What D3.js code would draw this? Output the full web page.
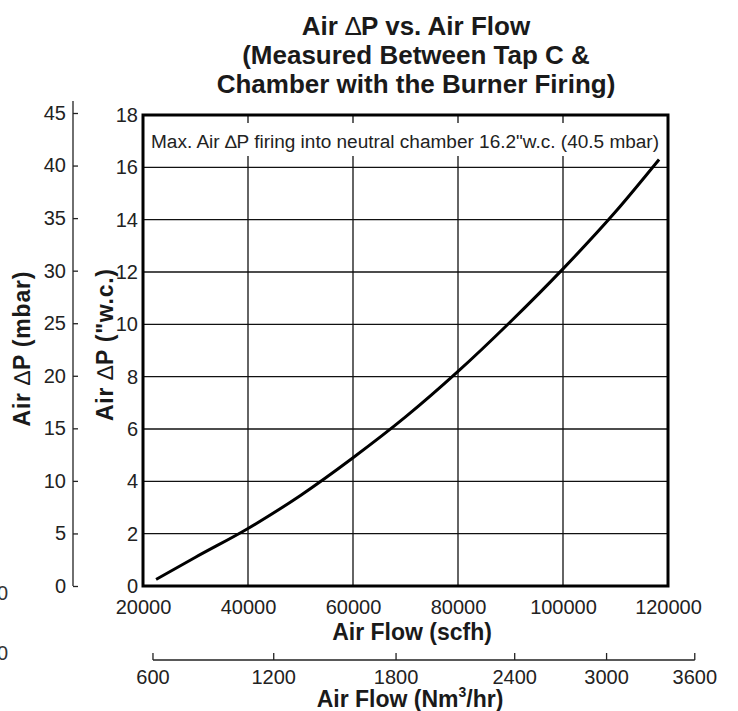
<!DOCTYPE html>
<html>
<head>
<meta charset="utf-8">
<script src="https://cdn.jsdelivr.net/npm/d3@7"></script>
<style>
body { margin: 0; background: #fff; }
text { font-family: "Liberation Sans", Arial, sans-serif; }
</style>
</head>
<body>
<div id="chart"></div>
<script>
// values
var flowScfh = [22500, 30000, 40000, 50000, 60000, 70000, 80000, 90000, 100000, 110000, 118300];
var dpWc = [0.25, 1.1, 2.2, 3.46, 4.9, 6.46, 8.2, 10.1, 12.12, 14.3, 16.3];

var scfhTicks = [20000, 40000, 60000, 80000, 100000, 120000];
var wcTicks = [0, 2, 4, 6, 8, 10, 12, 14, 16, 18];
var mbarTicks = [0, 5, 10, 15, 20, 25, 30, 35, 40, 45];
// secondary flow axis: label and where its tick sits on the scfh axis
var nm3Labels = [600, 1200, 1800, 2400, 3000, 3600];
var nm3AtScfh = [21900, 44900, 68200, 90800, 108300, 125100];

var titleLines = [["Air ", "\u2206", "P vs. Air Flow"], ["(Measured Between Tap C &"], ["Chamber with the Burner Firing)"]];
var noteText = "Max. Air \u2206P firing into neutral chamber 16.2\"w.c. (40.5 mbar)";

function airChart() {

var svgWidth = 738;
var svgHeight = 711;

var box = {left: 143, right: 668, top: 115, bottom: 586};

var svg = d3.select("#chart")
    .append("svg")
    .attr("width", svgWidth)
    .attr("height", svgHeight);

var xScale = d3.scaleLinear()
    .domain([20000, 120000])
    .range([box.left, box.right]);

var yScale = d3.scaleLinear()
    .domain([0, 18])
    .range([box.bottom, box.top]);

var yMbar = d3.scaleLinear()
    .domain([0, 45])
    .range([box.bottom, 113]);

// grid
svg.append("g").selectAll("line")
    .data(scfhTicks.slice(1, -1))
    .enter()
    .append("line")
    .attr("x1", d => xScale(d))
    .attr("x2", d => xScale(d))
    .attr("y1", box.top)
    .attr("y2", box.bottom)
    .attr("stroke", "#111")
    .attr("stroke-width", 1.3);

svg.append("g").selectAll("line")
    .data(wcTicks.slice(1, -1))
    .enter()
    .append("line")
    .attr("x1", box.left)
    .attr("x2", box.right)
    .attr("y1", d => yScale(d))
    .attr("y2", d => yScale(d))
    .attr("stroke", "#111")
    .attr("stroke-width", 1.3);

// note with white band behind it
svg.append("rect")
    .attr("x", box.left + 2)
    .attr("y", 123)
    .attr("width", box.right - box.left - 4)
    .attr("height", 33)
    .attr("fill", "#fff");

svg.append("text")
    .attr("x", 151)
    .attr("y", 148)
    .attr("font-size", "18px")
    .attr("textLength", 508)
    .attr("lengthAdjust", "spacingAndGlyphs")
    .attr("fill", "#222")
    .text(noteText);

// curve
var line = d3.line()
    .x(d => xScale(d[0]))
    .y(d => yScale(d[1]))
    .curve(d3.curveMonotoneX);

svg.append("path")
    .datum(flowScfh.map((f, i) => [f, dpWc[i]]))
    .attr("d", line)
    .attr("fill", "none")
    .attr("stroke", "#000")
    .attr("stroke-width", 3);

// frame
svg.append("rect")
    .attr("x", box.left)
    .attr("y", box.top)
    .attr("width", box.right - box.left)
    .attr("height", box.bottom - box.top)
    .attr("fill", "none")
    .attr("stroke", "#000")
    .attr("stroke-width", 3);

// "w.c. axis
var wcAxis = svg.append("g")
    .attr("transform", `translate(${box.left}, 0)`)
    .call(d3.axisLeft(yScale).tickValues(wcTicks).tickSize(0).tickPadding(5));
wcAxis.select(".domain").remove();
wcAxis.selectAll("text").attr("font-size", "20px").attr("font-family", null).attr("fill", "#222");

// mbar axis
var mbarAxis = svg.append("g")
    .attr("transform", "translate(73, 0)")
    .call(d3.axisLeft(yMbar).tickValues(mbarTicks).tickSize(-5).tickSizeOuter(0).tickPadding(7));
mbarAxis.select(".domain").remove();
mbarAxis.append("line")
    .attr("y1", 101)
    .attr("y2", box.bottom)
    .attr("stroke", "#222")
    .attr("stroke-width", 1.3);
mbarAxis.selectAll(".tick line").attr("stroke", "#222").attr("stroke-width", 1.3);
mbarAxis.selectAll("text").attr("font-size", "20px").attr("font-family", null).attr("fill", "#222");

// scfh axis
var xAxis = svg.append("g")
    .attr("transform", `translate(0, ${box.bottom})`)
    .call(d3.axisBottom(xScale).tickValues(scfhTicks).tickSize(0).tickPadding(14).tickFormat(d3.format("d")));
xAxis.select(".domain").remove();
xAxis.selectAll("text").attr("font-size", "20px").attr("font-family", null).attr("fill", "#222");

// Nm3/hr axis
var nmY = 660;
var nmAxis = svg.append("g");
nmAxis.append("line")
    .attr("x1", xScale(nm3AtScfh[0]))
    .attr("x2", xScale(nm3AtScfh[nm3AtScfh.length - 1]))
    .attr("y1", nmY)
    .attr("y2", nmY)
    .attr("stroke", "#222")
    .attr("stroke-width", 1.3);
nmAxis.selectAll(".nmtick")
    .data(nm3AtScfh)
    .enter()
    .append("line")
    .attr("x1", d => xScale(d))
    .attr("x2", d => xScale(d))
    .attr("y1", nmY)
    .attr("y2", nmY - 7)
    .attr("stroke", "#222")
    .attr("stroke-width", 1.3);
nmAxis.selectAll("text")
    .data(nm3Labels)
    .enter()
    .append("text")
    .attr("x", (d, i) => xScale(nm3AtScfh[i]))
    .attr("y", 684)
    .attr("text-anchor", "middle")
    .attr("font-size", "20px")
    .attr("fill", "#222")
    .text(d => d);

// titles (the delta sign is drawn thin, as in the original)
var titles = svg.append("g").selectAll("text")
    .data(titleLines)
    .enter()
    .append("text")
    .attr("x", 416)
    .attr("y", (d, i) => 35 + i * 29)
    .attr("text-anchor", "middle")
    .attr("font-size", "26px")
    .attr("font-weight", "700")
    .attr("fill", "#1a1a1a");
titles.selectAll("tspan")
    .data(d => d)
    .enter()
    .append("tspan")
    .attr("font-weight", d => d === "\u2206" ? 400 : null)
    .text(d => d);

svg.append("text")
    .attr("x", 412)
    .attr("y", 640)
    .attr("text-anchor", "middle")
    .attr("font-size", "23px")
    .attr("font-weight", "700")
    .attr("fill", "#1a1a1a")
    .text("Air Flow (scfh)");

var nmTitle = svg.append("text")
    .attr("x", 410)
    .attr("y", 707)
    .attr("text-anchor", "middle")
    .attr("font-size", "23px")
    .attr("font-weight", "700")
    .attr("fill", "#1a1a1a");
nmTitle.append("tspan").text("Air Flow (Nm");
nmTitle.append("tspan").attr("font-size", "14px").attr("dy", -10).text("3");
nmTitle.append("tspan").attr("dy", 10).text("/hr)");

// rotated left titles
var yTitles = [
    {x: 30, y: 349, len: 155, parts: ["Air ", "\u2206", "P (mbar)"]},
    {x: 113, y: 345, len: 152, parts: ["Air ", "\u2206", "P (\"w.c.)"]}
];
var yt = svg.selectAll(".ytitle")
    .data(yTitles)
    .enter()
    .append("text")
    .attr("transform", d => `translate(${d.x}, ${d.y}) rotate(-90)`)
    .attr("text-anchor", "middle")
    .attr("font-size", "23px")
    .attr("font-weight", "700")
    .attr("textLength", d => d.len)
    .attr("lengthAdjust", "spacing")
    .attr("fill", "#1a1a1a");
yt.selectAll("tspan")
    .data(d => d.parts)
    .enter()
    .append("tspan")
    .attr("font-weight", d => d === "\u2206" ? 400 : null)
    .text(d => d);

// clipped leftovers at the left edge
svg.selectAll(".stray")
    .data([600, 660])
    .enter()
    .append("text")
    .attr("x", 8)
    .attr("y", d => d)
    .attr("text-anchor", "end")
    .attr("font-size", "20px")
    .attr("fill", "#333")
    .text("0");

}

airChart();
</script>
</body>
</html>
